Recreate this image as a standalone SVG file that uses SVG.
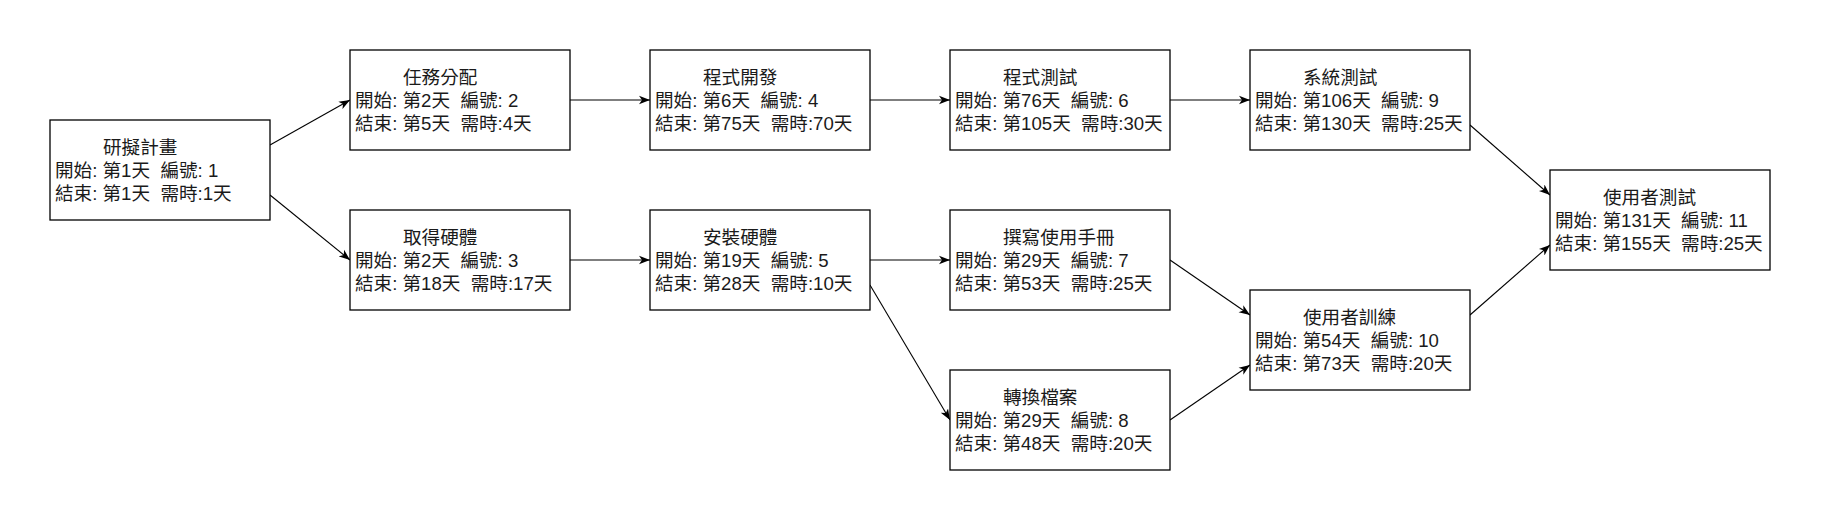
<svg xmlns="http://www.w3.org/2000/svg" width="1821" height="521" viewBox="0 0 1821 521" xml:space="preserve">
<style>
.box{fill:#ffffff;stroke:#000000;stroke-width:1.3}
.t{font-family:"Liberation Sans","Noto Sans CJK TC",sans-serif;font-size:18.6px;fill:#1a1a1a;white-space:pre}
.e{fill:none;stroke:#000000;stroke-width:1.1}
</style>
<defs>
<marker id="arr" markerUnits="userSpaceOnUse" markerWidth="12" markerHeight="10" viewBox="0 0 12 10" refX="11" refY="5" orient="auto"><path d="M0,0.8 L11,5 L0,9.2 L3,5 Z" fill="#000000"/></marker>
</defs>
<rect width="1821" height="521" fill="#ffffff"/>
<g id="connectors">
<path class="e" marker-end="url(#arr)" d="M270,145 L350,100"/>
<path class="e" marker-end="url(#arr)" d="M270,195 L350,260"/>
<path class="e" marker-end="url(#arr)" d="M570,100 L650,100"/>
<path class="e" marker-end="url(#arr)" d="M570,260 L650,260"/>
<path class="e" marker-end="url(#arr)" d="M870,100 L950,100"/>
<path class="e" marker-end="url(#arr)" d="M870,260 L950,260"/>
<path class="e" marker-end="url(#arr)" d="M870,285 L950,420"/>
<path class="e" marker-end="url(#arr)" d="M1170,100 L1250,100"/>
<path class="e" marker-end="url(#arr)" d="M1170,260 L1250,315"/>
<path class="e" marker-end="url(#arr)" d="M1170,420 L1250,365"/>
<path class="e" marker-end="url(#arr)" d="M1470,125 L1550,195"/>
<path class="e" marker-end="url(#arr)" d="M1470,315 L1550,245"/>
</g>
<g id="n1"><rect class="box" x="50" y="120" width="220" height="100"/><text class="t" x="103" y="154">研擬計畫</text><text class="t" x="55" y="177">開始: 第1天  編號: 1</text><text class="t" x="55" y="200">結束: 第1天  需時:1天</text></g>
<g id="n2"><rect class="box" x="350" y="50" width="220" height="100"/><text class="t" x="403" y="84">任務分配</text><text class="t" x="355" y="107">開始: 第2天  編號: 2</text><text class="t" x="355" y="130">結束: 第5天  需時:4天</text></g>
<g id="n3"><rect class="box" x="350" y="210" width="220" height="100"/><text class="t" x="403" y="244">取得硬體</text><text class="t" x="355" y="267">開始: 第2天  編號: 3</text><text class="t" x="355" y="290">結束: 第18天  需時:17天</text></g>
<g id="n4"><rect class="box" x="650" y="50" width="220" height="100"/><text class="t" x="703" y="84">程式開發</text><text class="t" x="655" y="107">開始: 第6天  編號: 4</text><text class="t" x="655" y="130">結束: 第75天  需時:70天</text></g>
<g id="n5"><rect class="box" x="650" y="210" width="220" height="100"/><text class="t" x="703" y="244">安裝硬體</text><text class="t" x="655" y="267">開始: 第19天  編號: 5</text><text class="t" x="655" y="290">結束: 第28天  需時:10天</text></g>
<g id="n6"><rect class="box" x="950" y="50" width="220" height="100"/><text class="t" x="1003" y="84">程式測試</text><text class="t" x="955" y="107">開始: 第76天  編號: 6</text><text class="t" x="955" y="130">結束: 第105天  需時:30天</text></g>
<g id="n7"><rect class="box" x="950" y="210" width="220" height="100"/><text class="t" x="1003" y="244">撰寫使用手冊</text><text class="t" x="955" y="267">開始: 第29天  編號: 7</text><text class="t" x="955" y="290">結束: 第53天  需時:25天</text></g>
<g id="n8"><rect class="box" x="950" y="370" width="220" height="100"/><text class="t" x="1003" y="404">轉換檔案</text><text class="t" x="955" y="427">開始: 第29天  編號: 8</text><text class="t" x="955" y="450">結束: 第48天  需時:20天</text></g>
<g id="n9"><rect class="box" x="1250" y="50" width="220" height="100"/><text class="t" x="1303" y="84">系統測試</text><text class="t" x="1255" y="107">開始: 第106天  編號: 9</text><text class="t" x="1255" y="130">結束: 第130天  需時:25天</text></g>
<g id="n10"><rect class="box" x="1250" y="290" width="220" height="100"/><text class="t" x="1303" y="324">使用者訓練</text><text class="t" x="1255" y="347">開始: 第54天  編號: 10</text><text class="t" x="1255" y="370">結束: 第73天  需時:20天</text></g>
<g id="n11"><rect class="box" x="1550" y="170" width="220" height="100"/><text class="t" x="1603" y="204">使用者測試</text><text class="t" x="1555" y="227">開始: 第131天  編號: 11</text><text class="t" x="1555" y="250">結束: 第155天  需時:25天</text></g>
</svg>
